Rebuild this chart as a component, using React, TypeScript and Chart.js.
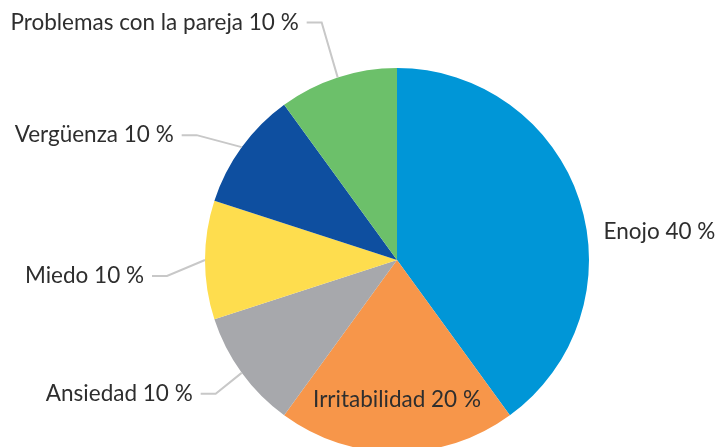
import React, { useEffect, useRef } from "react";
import { Chart, registerables } from "chart.js";

Chart.register(...registerables);

const categories = ["Enojo", "Irritabilidad", "Ansiedad", "Miedo", "Vergüenza", "Problemas con la pareja"];
const values = [40, 20, 10, 10, 10, 10];
const colors = ["#0096D7", "#F7964A", "#A7A8AC", "#FEDD4E", "#0E4FA0", "#6CC06A"];

// label layout: mode, offset from slice edge point (dx, dy)
const labelLayout = [
  { mode: "right", dx: 24, dy: 31 },
  { mode: "inside", f: 0.73 },
  { mode: "left", dx: -26, dy: 21 },
  { mode: "left", dx: -38, dy: 16 },
  { mode: "left", dx: -45, dy: -12 },
  { mode: "left", dx: -16, dy: -55 },
];

const FONT = '22.5px Lato, "Open Sans", sans-serif';

const labelPlugin = {
  id: "pieLabels",
  afterDraw(chart: any) {
    const ctx = chart.ctx;
    const meta = chart.getDatasetMeta(0);
    ctx.save();
    ctx.font = FONT;
    ctx.fillStyle = "#2E2E2E";
    ctx.textBaseline = "middle";
    meta.data.forEach((arc: any, i: number) => {
      const { x, y, startAngle, endAngle, outerRadius } = arc.getProps(
        ["x", "y", "startAngle", "endAngle", "outerRadius"],
        true
      );
      const mid = (startAngle + endAngle) / 2;
      const ex = x + Math.cos(mid) * outerRadius;
      const ey = y + Math.sin(mid) * outerRadius;
      const text = `${categories[i]} ${values[i]} %`;
      const lay: any = labelLayout[i];
      if (lay.mode === "inside") {
        ctx.textAlign = "center";
        ctx.fillText(text, x + Math.cos(mid) * outerRadius * lay.f, y + Math.sin(mid) * outerRadius * lay.f);
      } else if (lay.mode === "right") {
        ctx.textAlign = "left";
        ctx.fillText(text, ex + lay.dx, ey + lay.dy);
      } else {
        const elx = ex + lay.dx;
        const ely = ey + lay.dy;
        ctx.strokeStyle = "#C8C8C8";
        ctx.lineWidth = 2;
        ctx.beginPath();
        ctx.moveTo(ex, ey);
        ctx.lineTo(elx, ely);
        ctx.lineTo(elx - 15, ely);
        ctx.stroke();
        ctx.textAlign = "right";
        ctx.fillText(text, elx - 23, ely);
      }
    });
    ctx.restore();
  },
};

export default function App() {
  const ref = useRef<HTMLCanvasElement>(null);
  useEffect(() => {
    if (!ref.current) return;
    const chart = new Chart(ref.current, {
      type: "pie",
      data: {
        labels: categories,
        datasets: [
          {
            data: values,
            backgroundColor: colors,
            borderWidth: 0,
          },
        ],
      },
      options: {
        responsive: false,
        animation: false,
        layout: { padding: { left: 205, right: 126, top: 68, bottom: 68 } },
        plugins: { legend: { display: false }, tooltip: { enabled: false } },
      },
      plugins: [labelPlugin],
    });
    return () => chart.destroy();
  }, []);
  return (
    <div style={{ position: "fixed", left: 0, top: 0, width: 715, height: 447, overflow: "hidden", background: "#fff" }}>
      <canvas ref={ref} width={715} height={520} style={{ display: "block" }} />
    </div>
  );
}
